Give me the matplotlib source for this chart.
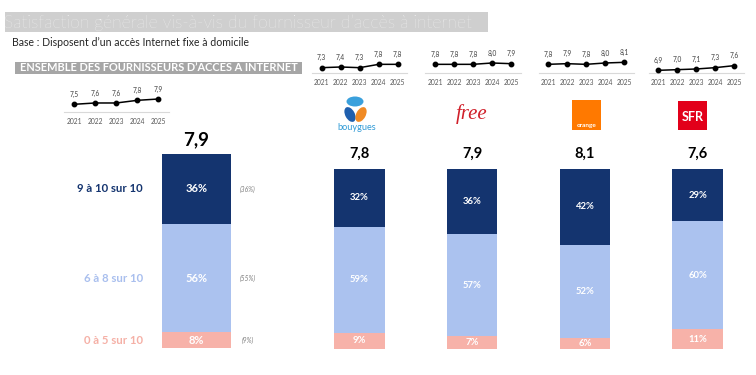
import matplotlib
matplotlib.use("Agg")
import matplotlib.pyplot as plt
from matplotlib.patches import Rectangle, Ellipse
from matplotlib import transforms

plt.rcParams['font.family'] = ['Lato', 'DejaVu Sans']

# ---------------- data ----------------
years = ['2021', '2022', '2023', '2024', '2025']
overall_trend = [7.5, 7.6, 7.6, 7.8, 7.9]
brands = ['Bouygues', 'Free', 'Orange', 'SFR']
trend_bouygues = [7.3, 7.4, 7.3, 7.8, 7.8]
trend_free = [7.8, 7.8, 7.8, 8.0, 7.9]
trend_orange = [7.8, 7.9, 7.8, 8.0, 8.1]
trend_sfr = [6.9, 7.0, 7.1, 7.3, 7.6]

overall_score = 7.9
brand_scores = [7.8, 7.9, 8.1, 7.6]

segment_labels = ['9 à 10 sur 10', '6 à 8 sur 10', '0 à 5 sur 10']
overall_high, overall_mid, overall_low = 36, 56, 8
overall_prev = [36, 55, 9]          # high, mid, low (previous wave)
brand_high = [32, 36, 42, 29]
brand_mid = [59, 57, 52, 60]
brand_low = [9, 7, 6, 11]

# ---------------- style ----------------
C_HIGH = '#14346f'
C_MID = '#abc2ef'
C_LOW = '#f7b2a9'
W, H = 756, 375

fig = plt.figure(figsize=(W / 100, H / 100), dpi=100)
fig.patch.set_facecolor('white')

ax0 = fig.add_axes([0, 0, 1, 1])
ax0.set_xlim(0, W)
ax0.set_ylim(H, 0)
ax0.axis('off')


def px_axes(x0, y0, x1, y1):
    a = fig.add_axes([x0 / W, 1 - y1 / H, (x1 - x0) / W, (y1 - y0) / H])
    a.patch.set_alpha(0)
    return a


def fmt(v):
    return f"{v:.1f}".replace('.', ',')


# ---------------- header ----------------
ax0.add_patch(Rectangle((5, 12), 483, 20, color='#cfcfcf', lw=0))
ax0.text(4, 22.5, "Satisfaction générale vis-à-vis du fournisseur d’accès à internet",
         fontsize=12.6, color='white', va='center', ha='left', fontweight='light')
ax0.text(12, 42, "Base : Disposent d’un accès Internet fixe à domicile",
         fontsize=7.6, color='#262626', va='center', ha='left')
ax0.add_patch(Rectangle((15, 61.5), 287, 12, color='#a6a6a6', lw=0))
ax0.text(158.5, 67.7, "ENSEMBLE DES FOURNISSEURS D’ACCÈS À INTERNET",
         fontsize=7.9, color='white', fontweight='bold', va='center', ha='center')


# ---------------- mini trend charts ----------------
def mini(ax, vals, ylim):
    x = list(range(len(vals)))
    ax.plot(x, vals, color='black', lw=1.1, marker='o', ms=3.2, zorder=3)
    for xi, v in zip(x, vals):
        ax.annotate(fmt(v), (xi, v), xytext=(0, 7), textcoords='offset points',
                    ha='center', va='center', fontsize=4.8, color='#404040')
    ax.set_xlim(-0.5, len(vals) - 0.5)
    ax.set_ylim(*ylim)
    ax.set_xticks(x)
    ax.set_xticklabels(years, fontsize=4.8, color='#595959')
    ax.tick_params(axis='x', length=0, pad=4.5)
    ax.set_yticks([])
    for s in ['top', 'left', 'right']:
        ax.spines[s].set_visible(False)
    ax.spines['bottom'].set_color('#d9d9d9')
    ax.spines['bottom'].set_linewidth(0.8)


mini(px_axes(63.5, 88, 169, 112), overall_trend, (6.92, 8.73))
brand_trends = [trend_bouygues, trend_free, trend_orange, trend_sfr]
first_pts = [321.7, 435, 548, 658]
for fp, tr in zip(first_pts, brand_trends):
    mini(px_axes(fp - 9.5, 52, fp - 9.5 + 95, 73), tr, (6.5, 9.65))

# ---------------- logos ----------------
ax0.add_patch(Ellipse((355, 101.5), 17, 10, color='#3aa0dc', lw=0))
ax0.add_patch(Ellipse((350, 114.5), 9.5, 16, angle=-28, color='#1f5fae', lw=0))
ax0.add_patch(Ellipse((361, 114.5), 9.5, 16, angle=28, color='#f08a24', lw=0))
ax0.text(357, 128, "bouygues", fontsize=6.6, color='#2f9ad6', ha='center', va='center')
ax0.text(472, 114, "free", fontsize=15, color='#d0202a', ha='center', va='center',
         family='Liberation Serif', style='italic')
ax0.add_patch(Rectangle((572, 100), 29, 30, color='#ff7900', lw=0))
ax0.text(586.5, 126, "orange", fontsize=4.6, color='white', ha='center', va='center',
         fontweight='bold')
ax0.add_patch(Rectangle((678, 101), 29, 29, color='#e2001a', lw=0))
ax0.text(692.5, 117, "SFR", fontsize=9, color='white', ha='center', va='center',
         fontweight='bold')

# ---------------- overall bar ----------------
axo = px_axes(162, 154, 231, 348)
axo.bar([0], [overall_low], width=1, color=C_LOW, lw=0)
axo.bar([0], [overall_mid], bottom=[overall_low], width=1, color=C_MID, lw=0)
axo.bar([0], [overall_high], bottom=[overall_low + overall_mid], width=1, color=C_HIGH, lw=0)
axo.set_xlim(-0.5, 0.5)
axo.set_ylim(0, 100)
axo.axis('off')
centers = [overall_low + overall_mid + overall_high / 2,
           overall_low + overall_mid / 2,
           overall_low / 2]
vals = [overall_high, overall_mid, overall_low]
for c, v in zip(centers, vals):
    axo.text(0, c, f"{v}%", ha='center', va='center', color='white',
             fontsize=8, fontweight='bold')
axo.annotate(fmt(overall_score), (0, 100), xytext=(0, 10.5), textcoords='offset points',
             ha='center', va='center', fontsize=13.5, fontweight='bold', color='black')

blend = transforms.blended_transform_factory(ax0.transData, axo.transData)
label_colors = [C_HIGH, '#a9bfee', '#f5b0a6']
for lab, c, col in zip(segment_labels, centers, label_colors):
    ax0.text(143, c, lab, transform=blend, ha='right', va='center', fontsize=8.2,
             fontweight='bold', color=col)
for p, c in zip(overall_prev, centers):
    ax0.text(248, c, f"({p}%)", transform=blend, ha='center', va='center', fontsize=4.8,
             style='italic', color='#7f7f7f')

# ---------------- brand bars ----------------
axb = px_axes(303, 169, 754, 349)
xb = list(range(len(brands)))
bot_mid = brand_low
bot_high = [l + m for l, m in zip(brand_low, brand_mid)]
axb.bar(xb, brand_low, width=0.45, color=C_LOW, lw=0)
axb.bar(xb, brand_mid, bottom=bot_mid, width=0.45, color=C_MID, lw=0)
axb.bar(xb, brand_high, bottom=bot_high, width=0.45, color=C_HIGH, lw=0)
axb.set_xlim(-0.5, len(brands) - 0.5)
axb.set_ylim(0, 100)
axb.axis('off')
for i in xb:
    for v, b in [(brand_low[i], 0), (brand_mid[i], bot_mid[i]), (brand_high[i], bot_high[i])]:
        axb.text(i, b + v / 2, f"{v}%", ha='center', va='center', color='white',
                 fontsize=6.8, fontweight='bold')
    axb.annotate(fmt(brand_scores[i]), (i, 100), xytext=(0, 11), textcoords='offset points',
                 ha='center', va='center', fontsize=10.5, fontweight='bold', color='black')

fig.savefig('out.png', dpi=100, facecolor='white')
